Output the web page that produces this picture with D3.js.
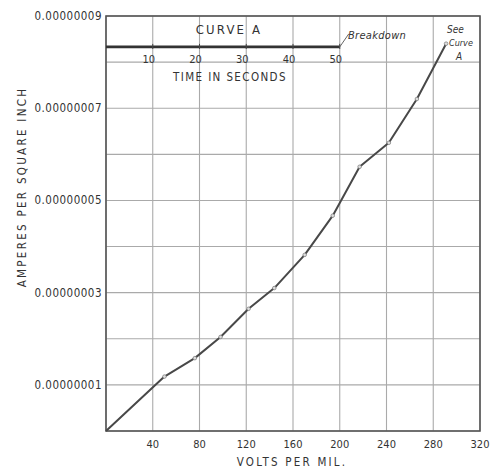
<!DOCTYPE html>
<html>
<head>
<meta charset="utf-8">
<script src="https://cdn.jsdelivr.net/npm/d3@7/dist/d3.min.js"></script>
<style>
  html, body { margin: 0; padding: 0; background: #fff; }
  svg { display: block; }
  text { fill: #333; }
</style>
</head>
<body>
<svg id="chart" width="490" height="471"></svg>
<script>
// ---- data ----
const volts = [0, 50, 76, 98, 122, 144, 170, 194, 217, 242, 266, 291];
const amps  = [0, 1.18e-8, 1.58e-8, 2.04e-8, 2.65e-8, 3.10e-8, 3.82e-8, 4.67e-8, 5.73e-8, 6.25e-8, 7.20e-8, 8.40e-8];
const xTicks = [40, 80, 120, 160, 200, 240, 280, 320];
const xGrid = [0, 40, 80, 120, 160, 200, 240, 280, 320];
const yGrid = [0, 1e-8, 2e-8, 3e-8, 4e-8, 5e-8, 6e-8, 7e-8, 8e-8, 9e-8];
const yTicks = [1e-8, 3e-8, 5e-8, 7e-8, 9e-8];
const yTickLabels = ["0.00000001", "0.00000003", "0.00000005", "0.00000007", "0.00000009"];
const timeTicks = [10, 20, 30, 40, 50];
const timeLabels = ["10", "20", "30", "40", "50"];
const curveATime = [0, 50];
const curveALevel = 8.33e-8;
const voltsPerSecond = 4;

// ---- layout ----
const svg = d3.select("#chart");
const L = 106, R = 480, T = 16, B = 431;
const x = d3.scaleLinear().domain([0, 320]).range([L, R]);
const y = d3.scaleLinear().domain([0, 9e-8]).range([B, T]);
const t = d3.scaleLinear().domain([0, 320 / voltsPerSecond]).range([L, R]);
const font = "'DejaVu Sans Condensed', 'DejaVu Sans', sans-serif";

// grid
svg.append("g").selectAll("line").data(xGrid).join("line")
  .attr("x1", d => x(d)).attr("x2", d => x(d))
  .attr("y1", T).attr("y2", B)
  .attr("stroke", "#aaa").attr("stroke-width", 1.1);
svg.append("g").selectAll("line").data(yGrid).join("line")
  .attr("x1", L).attr("x2", R)
  .attr("y1", d => y(d)).attr("y2", d => y(d))
  .attr("stroke", "#aaa").attr("stroke-width", 1.1);

// frame
svg.append("rect").attr("x", L).attr("y", T).attr("width", R - L).attr("height", B - T)
  .attr("fill", "none").attr("stroke", "#555").attr("stroke-width", 1.6);

// y axis labels
svg.append("g").selectAll("text").data(yTicks).join("text")
  .attr("x", L - 4).attr("y", d => y(d) + 4)
  .attr("text-anchor", "end")
  .attr("font-family", font).attr("font-size", 11.5).attr("letter-spacing", 0.5)
  .text((d, i) => yTickLabels[i]);

// x axis labels
svg.append("g").selectAll("text").data(xTicks).join("text")
  .attr("x", d => x(d)).attr("y", B + 17)
  .attr("text-anchor", "middle")
  .attr("font-family", font).attr("font-size", 11)
  .text(d => d);

// axis titles
svg.append("text").attr("x", 292).attr("y", 466)
  .attr("text-anchor", "middle").attr("font-family", font)
  .attr("font-size", 11.5).attr("letter-spacing", 2.2)
  .text("VOLTS PER MIL.");
svg.append("text")
  .attr("transform", "translate(26,187) rotate(-90)")
  .attr("text-anchor", "middle").attr("font-family", font)
  .attr("font-size", 11.5).attr("letter-spacing", 2.3)
  .text("AMPERES PER SQUARE INCH");

// header: curve A time scale
svg.append("line")
  .attr("x1", t(curveATime[0])).attr("x2", t(curveATime[1]))
  .attr("y1", y(curveALevel)).attr("y2", y(curveALevel))
  .attr("stroke", "#333").attr("stroke-width", 2.6);
svg.append("g").selectAll("line").data(timeTicks).join("line")
  .attr("x1", d => t(d)).attr("x2", d => t(d))
  .attr("y1", y(curveALevel) - 3).attr("y2", y(curveALevel) + 2)
  .attr("stroke", "#444").attr("stroke-width", 1);
svg.append("g").selectAll("text").data(timeTicks).join("text")
  .attr("x", d => t(d) - 4).attr("y", y(8e-8) + 1)
  .attr("text-anchor", "middle")
  .attr("font-family", font).attr("font-size", 11)
  .text((d, i) => timeLabels[i]);
svg.append("text").attr("x", 229).attr("y", 34)
  .attr("text-anchor", "middle").attr("font-family", font)
  .attr("font-size", 13).attr("letter-spacing", 2.2)
  .text("CURVE  A");
svg.append("text").attr("x", 230).attr("y", 81)
  .attr("text-anchor", "middle").attr("font-family", font)
  .attr("font-size", 11.5).attr("letter-spacing", 1.4)
  .text("TIME IN SECONDS");
// breakdown annotation
svg.append("line")
  .attr("x1", t(50)).attr("y1", y(curveALevel))
  .attr("x2", t(50) + 9).attr("y2", y(curveALevel) - 13)
  .attr("stroke", "#555").attr("stroke-width", 0.9);
svg.append("text").attr("x", 348).attr("y", 39)
  .attr("font-family", font).attr("font-style", "italic")
  .attr("font-size", 11).attr("letter-spacing", 0.3)
  .text("Breakdown");
svg.append("text").attr("x", 447).attr("y", 33)
  .attr("font-family", font).attr("font-style", "italic")
  .attr("font-size", 10).text("See");
svg.append("text").attr("x", 449).attr("y", 46)
  .attr("font-family", font).attr("font-style", "italic")
  .attr("font-size", 9).attr("fill", "#666").text("Curve");
svg.append("text").attr("x", 456).attr("y", 60)
  .attr("font-family", font).attr("font-style", "italic")
  .attr("font-size", 10).text("A");

// curve
const pts = volts.map((v, i) => [v, amps[i]]);
svg.append("path").datum(pts)
  .attr("d", d3.line().x(d => x(d[0])).y(d => y(d[1])))
  .attr("fill", "none").attr("stroke", "#484848").attr("stroke-width", 2)
  .attr("stroke-linejoin", "round");
svg.append("g").selectAll("circle").data(pts.slice(1)).join("circle")
  .attr("cx", d => x(d[0])).attr("cy", d => y(d[1])).attr("r", 1.8)
  .attr("fill", "#ddd").attr("stroke", "#777").attr("stroke-width", 0.7);
</script>
</body>
</html>
